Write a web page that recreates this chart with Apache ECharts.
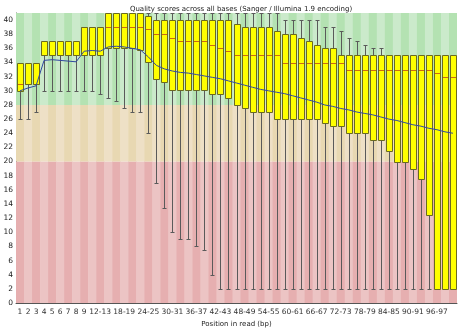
<!DOCTYPE html>
<html>
<head>
<meta charset="utf-8">
<script src="https://cdn.jsdelivr.net/npm/echarts@6/dist/echarts.min.js"></script>
<style>
html,body{margin:0;padding:0;background:#fff;}
#c{width:474px;height:333px;}
</style>
</head>
<body>
<div id="c"></div>
<script>
const categories = ['1','2','3','4','5','6','7','8','9','10-11','12-13','14-15','16-17','18-19','20-21','22-23','24-25','26-27','28-29','30-31','32-33','34-35','36-37','38-39','40-41','42-43','44-45','46-47','48-49','50-51','52-53','54-55','56-57','58-59','60-61','62-63','64-65','66-67','68-69','70-71','72-73','74-75','76-77','78-79','80-81','82-83','84-85','86-87','88-89','90-91','92-93','94-95','96-97','98-99','100-101'];

const lowWhisker = [26,26,27,30,30,30,30,30,30,30,29.5,29,28.5,27.5,27,27,24,17,13.5,10,9,9,8,7.5,4,2,2,2,2,2,2,2,2,2,2,2,2,2,2,2,2,2,2,2,2,2,2,2,2,2,2,2,2,2,2];
const lowerQuartile = [30,31,31,35,35,35,35,35,35,35,35,36,36,36,36,35.7,34.1,31.7,31.2,30.1,30.1,30.1,30.1,30.1,29.6,29.6,29,28,27.5,27,27,27,26,26,26,26,26,26,25.5,25,25,24,24,24,23,23,21.5,20,20,19,17.5,12.5,2,2,2];
const medianValues = [31,31,31,35,35,35,35,35,39,39,39,39,39,39,39,39,38.7,38.1,38.1,37.5,37,37,37,37,36.5,36,35.6,35,35,35,35,35,35,34,34,34,34,34,34,34,34,33,33,33,33,33,33,33,33,33,33,33,32.5,32,32];
const upperQuartile = [34,34,34,37,37,37,37,37,39,39,39,41,41,41,41,41,40.6,40,40,40,40,40,40,40,40,40,40,39.5,39,39,39,39,38.5,38,38,37.5,37,36.5,36,36,35,35,35,35,35,35,35,35,35,35,35,35,35,35,35];
const highWhisker = [34,34,34,37,37,37,37,37,39,39,39,41,41,41,41,41,41,41,41,41,41,41,41,41,41,41,41,41,41,41,41,41,41,40,40,40,40,40,39,39,38.5,37.5,37,36.5,36,36,35,35,35,35,35,35,35,35,35];
const meanValues = [30.0,30.4,30.7,34.3,34.4,34.3,34.2,34.1,35.6,35.7,35.6,36.2,36.3,36.2,36.0,35.8,34.8,33.6,33.1,32.8,32.6,32.5,32.3,32.1,31.9,31.7,31.4,31.1,30.8,30.5,30.2,30.0,29.8,29.6,29.3,29.0,28.7,28.4,28.0,27.8,27.5,27.3,27.0,26.8,26.6,26.3,26.0,25.8,25.5,25.2,25.0,24.7,24.5,24.2,24.0];
const zoneBounds = [0, 20, 28, 41];

const zoneColors = [
  ['#e6afb0', '#ecc4c4'],  // bad
  ['#e8d8b2', '#eee0c6'],  // medium
  ['#b4e2b2', '#cbeacb']   // good
];

const bgData = categories.map((c, i) => [i]);
const boxData = categories.map((c, i) => [i, lowWhisker[i], lowerQuartile[i], medianValues[i], upperQuartile[i], highWhisker[i]]);

function renderBg(params, api) {
  const i = api.value(0);
  const bw = api.size([1, 0])[0];
  const children = [];
  for (let z = 0; z < 3; z++) {
    const pTop = api.coord([i, zoneBounds[z + 1]]);
    const pBot = api.coord([i, zoneBounds[z]]);
    children.push({
      type: 'rect',
      shape: { x: pTop[0] - bw / 2, y: pTop[1], width: bw + 0.5, height: pBot[1] - pTop[1] },
      style: { fill: zoneColors[z][i % 2] }
    });
  }
  return { type: 'group', children: children, silent: true };
}

function renderBox(params, api) {
  const i = api.value(0);
  const bw = api.size([1, 0])[0];
  const half = Math.round(bw * 0.38);
  const capHalf = Math.round(bw * 0.3);
  const pLow = api.coord([i, api.value(1)]);
  const pQ1 = api.coord([i, api.value(2)]);
  const pMed = api.coord([i, api.value(3)]);
  const pQ3 = api.coord([i, api.value(4)]);
  const pHigh = api.coord([i, api.value(5)]);
  const cx = Math.round(pQ1[0]) + 0.5;
  const yLow = Math.round(pLow[1]) + 0.5;
  const yHigh = Math.round(pHigh[1]) + 0.5;
  const yQ1 = Math.round(pQ1[1]) + 0.5;
  const yQ3 = Math.round(pQ3[1]) + 0.5;
  const yMed = Math.round(pMed[1]) + 0.5;
  const whisk = { stroke: '#5a5a5a', lineWidth: 1 };
  const children = [
    { type: 'line', shape: { x1: cx, y1: yLow, x2: cx, y2: yHigh }, style: whisk },
    { type: 'line', shape: { x1: cx - capHalf, y1: yLow, x2: cx + capHalf, y2: yLow }, style: whisk },
    { type: 'line', shape: { x1: cx - capHalf, y1: yHigh, x2: cx + capHalf, y2: yHigh }, style: whisk },
    { type: 'rect', shape: { x: cx - half, y: yQ3, width: half * 2, height: yQ1 - yQ3 }, style: { fill: '#ffff00' } },
    { type: 'line', shape: { x1: cx - half, y1: yMed, x2: cx + half, y2: yMed }, style: { stroke: '#cc6a10', lineWidth: 1 } },
    { type: 'rect', shape: { x: cx - half, y: yQ3, width: half * 2, height: yQ1 - yQ3 }, style: { fill: null, stroke: '#6a6a20', lineWidth: 1 } }
  ];
  return { type: 'group', children: children };
}

const chart = echarts.init(document.getElementById('c'), null, { renderer: 'canvas' });
chart.setOption({
  animation: false,
  backgroundColor: '#ffffff',
  textStyle: { fontFamily: 'DejaVu Sans' },
  title: {
    text: 'Quality scores across all bases (Sanger / Illumina 1.9 encoding)',
    left: 236, textAlign: 'center', top: 1,
    textStyle: { fontSize: 7, fontWeight: 'normal', color: '#222', fontFamily: 'DejaVu Sans' }
  },
  grid: { left: 16, right: 17, top: 13, bottom: 23 },
  xAxis: {
    type: 'category',
    data: categories,
    boundaryGap: true,
    axisLine: { show: true, lineStyle: { color: '#555', width: 1 } },
    axisTick: { show: false },
    splitLine: { show: false },
    axisLabel: {
      fontSize: 7.5, color: '#333', margin: 5, fontFamily: 'DejaVu Sans',
      interval: function (idx) { return idx < 9 || (idx - 10) % 3 === 0; }
    },
    name: 'Position in read (bp)',
    nameLocation: 'middle',
    nameGap: 18,
    nameTextStyle: { fontSize: 7, color: '#222', fontFamily: 'DejaVu Sans' }
  },
  yAxis: {
    type: 'value',
    min: 0, max: 41, interval: 2,
    axisLine: { show: true, lineStyle: { color: '#555', width: 1 } },
    axisTick: { show: false },
    splitLine: { show: false },
    axisLabel: { fontSize: 7.5, color: '#222', margin: 3, showMaxLabel: false, fontFamily: 'DejaVu Sans' }
  },
  series: [
    { type: 'custom', renderItem: renderBg, data: bgData, encode: { x: 0 }, silent: true, z: 1, clip: true },
    { type: 'custom', renderItem: renderBox, data: boxData, encode: { x: 0, y: [1, 2, 3, 4, 5] }, z: 2, clip: true },
    { type: 'line', data: meanValues, symbol: 'none', lineStyle: { color: '#3048a0', width: 1 }, z: 3, silent: true }
  ]
});
</script>
</body>
</html>
